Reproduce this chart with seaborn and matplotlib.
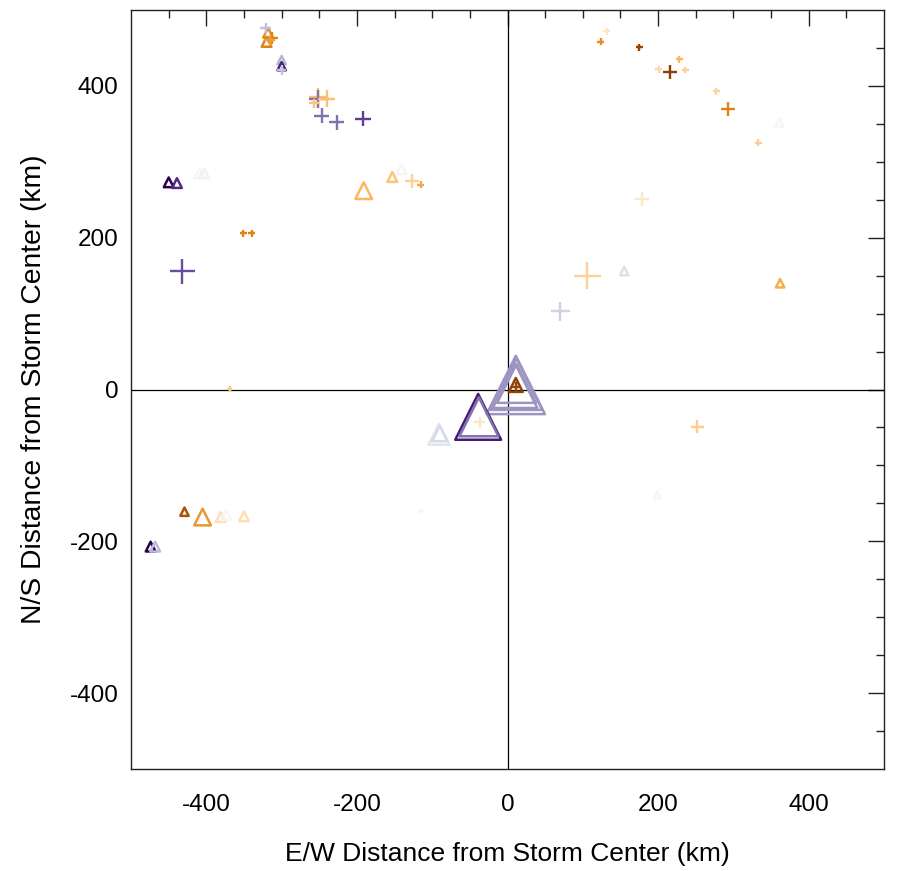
import numpy as np
import matplotlib
matplotlib.use("Agg")
import matplotlib.pyplot as plt
import seaborn as sns

# triangle observations: position (km), marker magnitude, colour value (0 = brown .. 1 = purple)
tri_x = [11, 12, 10, 12, 11, -39, -38, -91, -90,
         -318, -320, -300, -300, -450, -439, -409, -403,
         -191, -153, -141, 361, 155, 362, 199,
         -429, -405, -381, -374, -350, -474, -468]
tri_y = [6, 7, 5, 8, 6, -36, -36, -59, -58,
         470, 458, 434, 426, 273, 272, 285, 285,
         262, 280, 290, 352, 156, 140, -139,
         -161, -168, -168, -165, -167, -207, -207]
tri_mag = [42, 37, 32, 28, 10, 33, 28, 15, 11,
           7, 7, 6, 6, 7, 7, 7, 7,
           12, 7, 7, 6, 6, 6, 5,
           6, 12, 7, 7, 7, 7, 7]
tri_val = [0.74, 0.74, 0.74, 0.74, 0.03, 0.93, 0.8, 0.57, 0.6,
           0.22, 0.2, 0.68, 0.92, 1.0, 0.9, 0.5, 0.52,
           0.3, 0.33, 0.5, 0.5, 0.58, 0.28, 0.5,
           0.08, 0.24, 0.4, 0.5, 0.4, 1.0, 0.67]

# plus observations
plus_x = [-321, -313, -316, -300, -252, -252, -240, -257, -247, -227, -192,
          -127, -115, -351, -340, -432, -369, -37, -115, 252,
          132, 124, 175, 228, 201, 216, 236, 277, 293, 333, 179, 106, 70, 11]
plus_y = [476, 463, 460, 421, 386, 383, 383, 377, 361, 352, 357,
          275, 270, 206, 206, 156, 1, -43, -160, -49,
          472, 458, 451, 435, 422, 418, 421, 393, 370, 325, 251, 150, 103, 3]
plus_mag = [8, 9, 8, 7, 13, 13, 12, 7, 11, 11, 11,
            10, 5, 5, 5, 18, 4, 8, 4, 9,
            5, 5, 5, 5, 5, 10, 5, 5, 10, 5, 10, 19, 14, 7]
plus_val = [0.66, 0.2, 0.25, 0.65, 0.32, 0.8, 0.32, 0.33, 0.8, 0.8, 0.87,
            0.36, 0.27, 0.2, 0.2, 0.85, 0.35, 0.42, 0.5, 0.35,
            0.42, 0.22, 0.04, 0.3, 0.38, 0.02, 0.36, 0.37, 0.2, 0.35, 0.43, 0.36, 0.62, 0.04]

sns.set_style("white")
plt.rcParams["font.family"] = ["Liberation Sans", "DejaVu Sans"]
plt.rcParams["axes.unicode_minus"] = False
plt.rcParams["text.color"] = "black"
plt.rcParams["axes.labelcolor"] = "black"
plt.rcParams["xtick.color"] = "black"
plt.rcParams["ytick.color"] = "black"

fig = plt.figure(figsize=(9.05, 8.71), dpi=100)
ax = fig.add_axes([0.1448, 0.1171, 0.832, 0.8714])

ax.axhline(0, color="black", lw=0.9, zorder=1)
ax.axvline(0, color="black", lw=0.9, zorder=1)

# triangles (open)
sns.scatterplot(x=tri_x, y=tri_y, hue=tri_val, palette="PuOr", hue_norm=(0, 1),
                marker="^", linewidth=1.8, legend=False, ax=ax, zorder=3)
tri = ax.collections[-1]
cols = tri.get_facecolors()
tri.set_edgecolors(cols)
tri.set_facecolors("none")
tri.set_sizes(np.array(tri_mag, dtype=float) ** 2)

# plus signs
sns.scatterplot(x=plus_x, y=plus_y, hue=plus_val, palette="PuOr", hue_norm=(0, 1),
                marker="+", linewidth=1.7, legend=False, ax=ax, zorder=3)
pl = ax.collections[-1]
pl.set_sizes(np.array(plus_mag, dtype=float) ** 2)

ax.set_xlim(-500, 500)
ax.set_ylim(-500, 500)
ax.set_xticks([-400, -200, 0, 200, 400])
ax.set_yticks([-400, -200, 0, 200, 400])
ax.set_xticks(np.arange(-450, 500, 50), minor=True)
ax.set_yticks(np.arange(-450, 500, 50), minor=True)
ax.tick_params(which="both", direction="in", top=True, right=True,
               color="#222222", width=1.0)
ax.tick_params(which="major", length=11.5, labelsize=17.5)
ax.tick_params(axis="x", which="major", pad=18)
ax.tick_params(axis="y", which="major", pad=9)
ax.tick_params(which="minor", length=6)
for s in ax.spines.values():
    s.set_color("#222222")
    s.set_linewidth(1.0)

ax.set_xlabel("E/W Distance from Storm Center (km)", fontsize=19, labelpad=19)
ax.set_ylabel("N/S Distance from Storm Center (km)", fontsize=20.3, labelpad=16)

fig.savefig("out.png", dpi=100)
plt.close(fig)
